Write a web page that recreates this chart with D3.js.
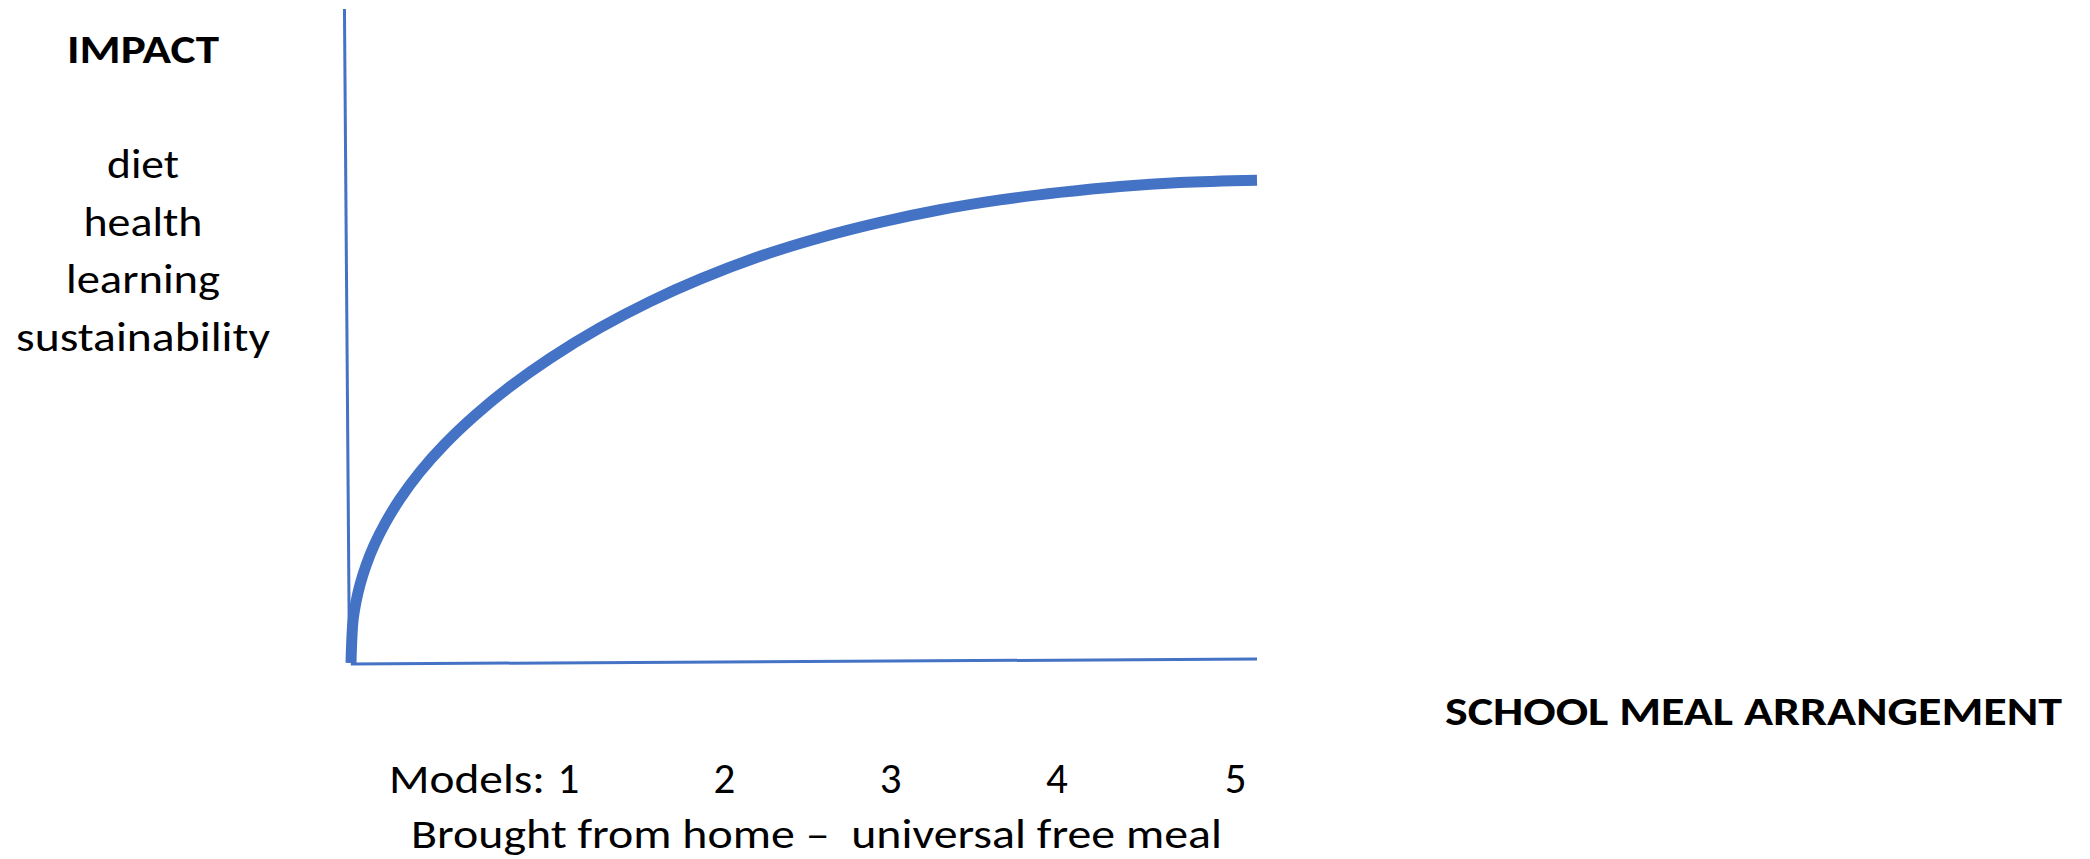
<!DOCTYPE html>
<html>
<head>
<meta charset="utf-8">
<script src="https://cdn.jsdelivr.net/npm/d3@7"></script>
<style>
  body { margin: 0; background: #fff; }
  text { font-family: Calibri, Carlito, Lato, sans-serif; fill: #000; white-space: pre; }
</style>
</head>
<body>
<div id="chart-area"></div>
<script>
// impact curve (arrangement 0-100 -> impact 0-100)
var arrangement = [0.22, 0.44, 0.77, 1.21, 1.87, 2.75, 3.96, 5.62, 7.82, 10.57, 13.88, 17.73,
                   22.14, 27.64, 33.15, 38.66, 45.26, 51.87, 58.48, 65.09, 71.70, 78.30,
                   84.91, 91.52, 100];
var impact = [0, 6.42, 9.33, 11.96, 14.89, 17.95, 21.31, 25.09, 29.22, 33.50, 37.86, 42.25,
              46.59, 51.25, 55.26, 58.70, 62.19, 65.03, 67.37, 69.30, 70.81, 71.96,
              72.87, 73.47, 73.82];

// model numbers under the axis
var modelTicks = [24.1, 41.3, 59.6, 77.9, 97.6];
var modelLabels = ["1", "2", "3", "4", "5"];

var impactItems = ["diet", "health", "learning", "sustainability"];

// hand drawn axes, slightly tilted
var yAxisEnds = [[-0.5, 100], [0.05, 0]];
var xAxisEnds = [[0.2, -0.15], [100, 0.6]];

var blue = "#4472C4";
var width = 2090, height = 859;

var svg = d3.select("#chart-area")
    .append("svg")
        .attr("width", width)
        .attr("height", height);

svg.append("rect")
    .attr("width", width)
    .attr("height", height)
    .attr("fill", "#fff");

// scales
var x = d3.scaleLinear().domain([0, 100]).range([349, 1257]);
var y = d3.scaleLinear().domain([0, 100]).range([663, 9]);

var straight = d3.line()
    .x(function(d){ return x(d[0]); })
    .y(function(d){ return y(d[1]); });

// axes lines
svg.append("path")
    .attr("d", straight(yAxisEnds))
    .attr("fill", "none")
    .attr("stroke", blue)
    .attr("stroke-width", 3);

svg.append("path")
    .attr("d", straight(xAxisEnds))
    .attr("fill", "none")
    .attr("stroke", blue)
    .attr("stroke-width", 3);

// the curve
var curveData = arrangement.map(function(d, i){ return { a: d, v: impact[i] }; });
var line = d3.line()
    .x(function(d){ return x(d.a); })
    .y(function(d){ return y(d.v); })
    .curve(d3.curveCatmullRom.alpha(0.5));

svg.append("path")
    .datum(curveData)
    .attr("d", line)
    .attr("fill", "none")
    .attr("stroke", blue)
    .attr("stroke-width", 11);

// model numbers (axis without domain and ticks)
var xAxisCall = d3.axisBottom(x)
    .tickValues(modelTicks)
    .tickSize(0)
    .tickPadding(0)
    .tickFormat(function(d, i){ return modelLabels[i]; });

var xAxisGroup = svg.append("g")
    .attr("class", "x-axis")
    .attr("transform", "translate(0,793)")
    .call(xAxisCall);
xAxisGroup.select(".domain").remove();
xAxisGroup.selectAll("text")
    .attr("y", 0)
    .attr("dy", 0)
    .attr("fill", "#000")
    .style("font-family", "Calibri, Carlito, Lato, sans-serif")
    .style("font-size", "43px");

svg.append("text")
    .attr("x", 389)
    .attr("y", 793)
    .attr("font-size", "42px")
    .attr("textLength", 156)
    .attr("lengthAdjust", "spacingAndGlyphs")
    .text("Models:");

svg.append("text")
    .attr("x", 411)
    .attr("y", 848)
    .attr("font-size", "42px")
    .attr("textLength", 811)
    .attr("lengthAdjust", "spacingAndGlyphs")
    .text("Brought from home \u2013  universal free meal");

// axis titles
svg.append("text")
    .attr("x", 67)
    .attr("y", 63)
    .attr("font-size", "40px")
    .attr("font-weight", "bold")
    .attr("textLength", 152)
    .attr("lengthAdjust", "spacingAndGlyphs")
    .text("IMPACT");

svg.append("text")
    .attr("x", 1445)
    .attr("y", 725)
    .attr("font-size", "40px")
    .attr("font-weight", "bold")
    .attr("textLength", 617)
    .attr("lengthAdjust", "spacingAndGlyphs")
    .text("SCHOOL MEAL ARRANGEMENT");

// impact items
var itemWidths = [72, 119, 154, 254];
svg.append("g")
    .selectAll("text")
    .data(impactItems)
    .enter().append("text")
        .attr("x", 143)
        .attr("y", function(d, i){ return 178 + i * 57.7; })
        .attr("font-size", "42px")
        .attr("text-anchor", "middle")
        .attr("textLength", function(d, i){ return itemWidths[i]; })
        .attr("lengthAdjust", "spacingAndGlyphs")
        .text(function(d){ return d; });
</script>
</body>
</html>
